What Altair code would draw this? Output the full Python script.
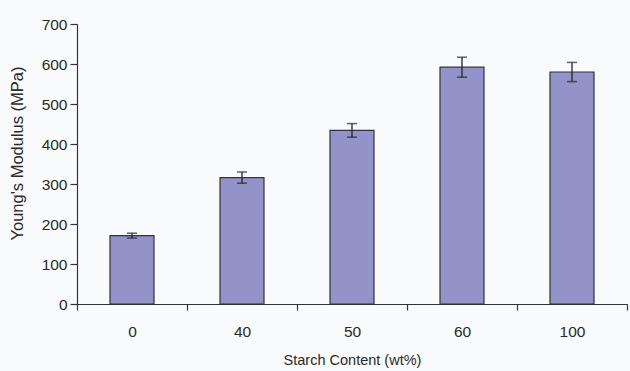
import altair as alt
import pandas as pd

# Young's modulus of films at each starch loading
starch = ["0", "40", "50", "60", "100"]
modulus = [171, 316, 434, 592, 580]
error = [6, 14, 17, 25, 24]
y_ticks = [0, 100, 200, 300, 400, 500, 600, 700]

df = pd.DataFrame({"starch": starch, "modulus": modulus, "err": error})
df["lo"] = df["modulus"] - df["err"]
df["hi"] = df["modulus"] + df["err"]

SANS = "Liberation Sans, Arial, Helvetica, sans-serif"
INK = "#2a2a2a"

x_axis = alt.Axis(
    title="Starch Content (wt%)",
    labelAngle=0,
    tickBand="extent",
    tickSize=6,
    labelPadding=14,
    titlePadding=14,
    titleFontSize=14.5,
)
x_scale = alt.Scale(paddingInner=0, paddingOuter=0)

y_axis = alt.Axis(
    title="Young's Modulus (MPa)",
    values=y_ticks,
    labelOverlap=False,
    tickSize=7,
    labelPadding=3,
    titleFontSize=16.5,
    titleX=-60,
    titleY=129,
    titleAlign="center",
    titleBaseline="middle",
)
y_scale = alt.Scale(domain=[0, 700], nice=False)


def xenc():
    return alt.X("starch:N", sort=starch, scale=x_scale, axis=x_axis)


def yenc(field):
    return alt.Y(f"{field}:Q", scale=y_scale, axis=y_axis)


base = alt.Chart(df)

bars = base.mark_bar(
    width=alt.RelativeBandSize(0.4),
    color="#9393c9",
    stroke="#333333",
    strokeWidth=1.2,
).encode(x=xenc(), y=yenc("modulus"))

stems = base.mark_rule(color="#222222", strokeWidth=1.3).encode(
    x=xenc(), y=yenc("lo"), y2="hi:Q"
)

caps_hi = base.mark_tick(
    color="#222222", size=10, thickness=1.5, orient="horizontal"
).encode(x=xenc(), y=yenc("hi"))

caps_lo = base.mark_tick(
    color="#222222", size=10, thickness=1.5, orient="horizontal"
).encode(x=xenc(), y=yenc("lo"))

chart = (
    alt.layer(bars, stems, caps_hi, caps_lo)
    .properties(
        width=550,
        height=280,
        background="#f9fafc",
        padding={"left": 77, "top": 24, "right": 3, "bottom": 67},
        autosize=alt.AutoSizeParams(type="none"),
    )
    .configure_view(stroke=None)
    .configure_axis(
        grid=False,
        domainColor="#333333",
        domainWidth=1.2,
        tickColor="#333333",
        tickWidth=1.2,
        labelFont=SANS,
        labelFontSize=15.5,
        labelColor=INK,
        titleFont=SANS,
        titleFontWeight="normal",
        titleColor=INK,
    )
)

chart.save("out.html", embed_options={"renderer": "svg", "actions": False})
